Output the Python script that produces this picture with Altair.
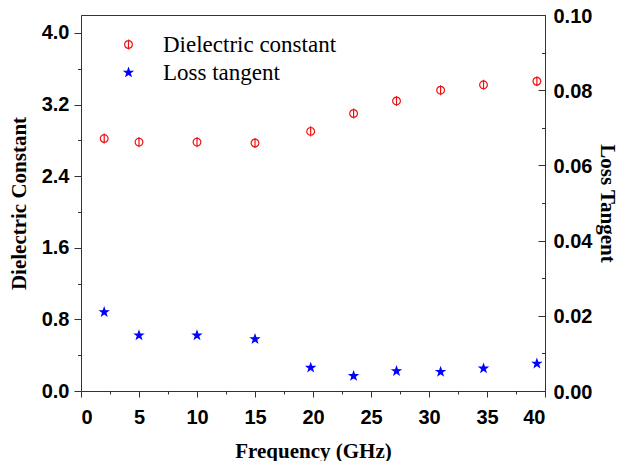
import altair as alt
import pandas as pd

# ---- data ----
freq = [2.0, 5.0, 10.0, 15.0, 19.8, 23.5, 27.2, 31.0, 34.7, 39.3]
dielectric = [2.82, 2.78, 2.78, 2.77, 2.90, 3.10, 3.24, 3.36, 3.42, 3.46]
loss = [0.0210, 0.0148, 0.0148, 0.0138, 0.0062, 0.0040, 0.0053, 0.0051, 0.0060, 0.0073]

series_names = ["Dielectric constant", "Loss tangent"]

x_major = [0, 5, 10, 15, 20, 25, 30, 35, 40]
x_minor = [2.5, 7.5, 12.5, 17.5, 22.5, 27.5, 32.5, 37.5]
left_major = [0.0, 0.8, 1.6, 2.4, 3.2, 4.0]
left_minor = [0.4, 1.2, 2.0, 2.8, 3.6]
right_major = [0.0, 0.02, 0.04, 0.06, 0.08, 0.10]
right_minor = [0.01, 0.03, 0.05, 0.07, 0.09]

df_d = pd.DataFrame({"freq": freq, "value": dielectric, "series": series_names[0]})
df_l = pd.DataFrame({"freq": freq, "value": loss, "series": series_names[1]})

W, H = 464, 376
AX = "#333333"
LABEL_FONT = "Liberation Sans"
TITLE_FONT = "Liberation Serif"

PHI = "M0,-1.3L0,1.3M1,0A1,1,0,1,1,-1,0A1,1,0,1,1,1,0Z"
STAR = ("M0,-1L0.235,-0.324L0.951,-0.309L0.380,0.124L0.588,0.809L0,0.4"
        "L-0.588,0.809L-0.380,0.124L-0.951,-0.309L-0.235,-0.324Z")

x_dom = alt.Scale(domain=[0, 40], nice=False, zero=False)
left_dom = alt.Scale(domain=[0, 4.2], nice=False, zero=False)
right_dom = alt.Scale(domain=[0, 0.1], nice=False, zero=False)

legend = alt.Legend(
    title=None, orient="none", legendX=36, legendY=18, padding=0,
    labelFont=TITLE_FONT, labelFontSize=23, labelColor="black", labelLimit=0,
    labelOffset=23, rowPadding=4, symbolStrokeWidth=1.2,
)
shape_enc = alt.Shape("series:N", scale=alt.Scale(domain=series_names, range=[PHI, STAR]), legend=legend)
stroke_enc = alt.Stroke("series:N", scale=alt.Scale(domain=series_names, range=["#ee1111", "#0000ff"]), legend=legend)
fill_enc = alt.Fill("series:N", scale=alt.Scale(domain=series_names, range=["transparent", "#0000ff"]), legend=legend)
size_enc = alt.Size("series:N", scale=alt.Scale(domain=series_names, range=[60, 70]), legend=legend)

# dielectric points + left axis (major) + bottom axis (major)
l1 = alt.Chart(df_d).mark_point(strokeWidth=1.2, opacity=1, fillOpacity=1).encode(
    x=alt.X("freq:Q", scale=x_dom, axis=alt.Axis(
        values=x_major, title="Frequency (GHz)", orient="bottom", tickSize=6,
        labelPadding=10, titlePadding=13, format="d", grid=False)),
    y=alt.Y("value:Q", scale=left_dom, axis=alt.Axis(
        values=left_major, title="Dielectric Constant", orient="left", tickSize=7,
        labelPadding=5, titlePadding=12, format=".1f", grid=False)),
    shape=shape_enc, stroke=stroke_enc, fill=fill_enc, size=size_enc,
)

# minor ticks for left & bottom axes
l2 = alt.Chart(df_d).mark_point(opacity=0).encode(
    x=alt.X("freq:Q", scale=x_dom, axis=alt.Axis(
        values=x_minor, labels=False, title=None, orient="bottom", tickSize=3,
        domain=False, grid=False)),
    y=alt.Y("value:Q", scale=left_dom, axis=alt.Axis(
        values=left_minor, labels=False, title=None, orient="left", tickSize=3.5,
        domain=False, grid=False)),
)

# loss points + right axis labels/title
l3 = alt.Chart(df_l).mark_point(strokeWidth=1.2, opacity=1, fillOpacity=1).encode(
    x=alt.X("freq:Q", scale=x_dom, axis=None),
    y=alt.Y("value:Q", scale=right_dom, axis=alt.Axis(
        values=right_major, title="Loss Tangent", orient="right", ticks=False, tickSize=0,
        labelPadding=8, labelOffset=1, titlePadding=5, titleAngle=90, format=".2f", grid=False)),
    shape=shape_enc, stroke=stroke_enc, fill=fill_enc, size=size_enc,
)

# inward ticks on the right edge
l4 = alt.Chart(df_l).mark_point(opacity=0).encode(
    x=alt.X("freq:Q", scale=x_dom, axis=None),
    y=alt.Y("value:Q", scale=right_dom, axis=alt.Axis(
        values=right_major, labels=False, title=None, orient="left", offset=-W,
        tickSize=7, domain=False, grid=False)),
)
l5 = alt.Chart(df_l).mark_point(opacity=0).encode(
    x=alt.X("freq:Q", scale=x_dom, axis=None),
    y=alt.Y("value:Q", scale=right_dom, axis=alt.Axis(
        values=right_minor, labels=False, title=None, orient="left", offset=-W,
        tickSize=3.5, domain=False, grid=False)),
)

chart = alt.layer(l1, l2, l3, l4, l5).resolve_scale(
    y="independent"
).resolve_axis(
    x="independent", y="independent"
).properties(
    width=W, height=H,
    autosize=alt.AutoSizeParams(type="none"),
    padding={"left": 73, "top": 7, "right": 76, "bottom": 70},
).configure_axis(
    domainColor=AX, tickColor=AX, domainWidth=1, tickWidth=1,
    labelFont=LABEL_FONT, labelFontWeight="bold", labelFontSize=20, labelColor="black",
    titleFont=TITLE_FONT, titleFontWeight="bold", titleFontSize=21, titleColor="black",
).configure_view(
    stroke=AX, strokeWidth=1
)

chart.save("out.html", embed_options={"renderer": "svg", "actions": False})
